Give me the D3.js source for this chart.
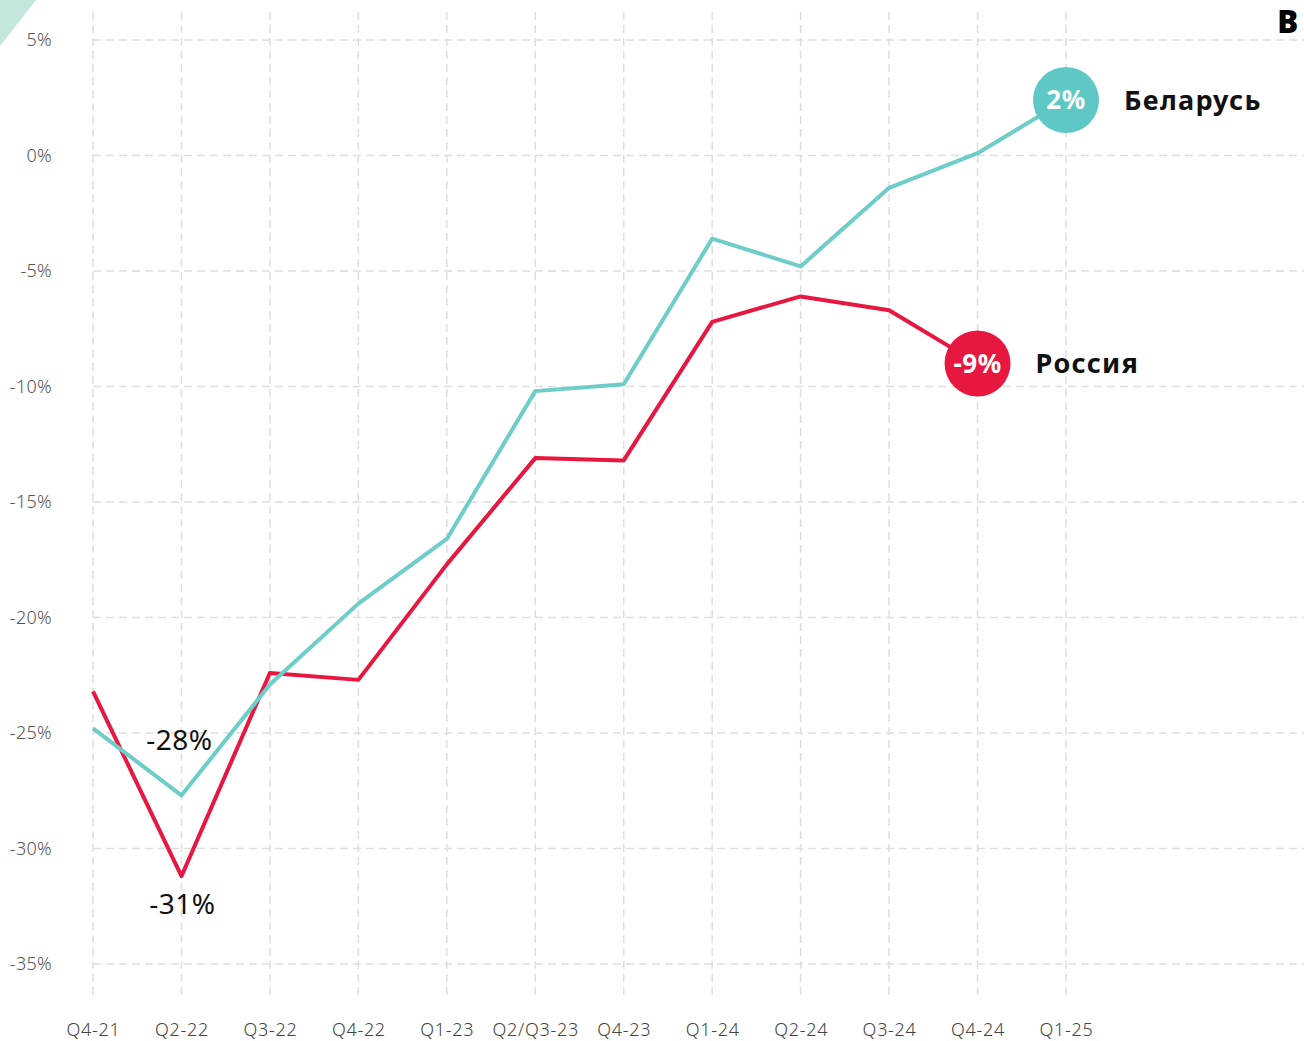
<!DOCTYPE html>
<html>
<head>
<meta charset="utf-8">
<script src="https://cdn.jsdelivr.net/npm/d3@7"></script>
<style>
  html, body { margin: 0; padding: 0; background: #fff; }
  svg { display: block; font-family: "Noto Sans", "Open Sans", sans-serif; }
</style>
</head>
<body>
<div id="chart"></div>
<script>
const quarters = ['Q4-21', 'Q2-22', 'Q3-22', 'Q4-22', 'Q1-23', 'Q2/Q3-23', 'Q4-23', 'Q1-24', 'Q2-24', 'Q3-24', 'Q4-24', 'Q1-25'];
const belarus = [-24.8, -27.7, -22.9, -19.4, -16.6, -10.2, -9.9, -3.6, -4.8, -1.4, 0.1, 2.4];
const russia = [-23.2, -31.2, -22.4, -22.7, -17.7, -13.1, -13.2, -7.2, -6.1, -6.7, -9.0];
const yTicks = [5, 0, -5, -10, -15, -20, -25, -30, -35];

const W = 1304, H = 1041;
const teal = '#6dcdc8';
const tealDot = '#5ec8c4';
const red = '#e8173f';

const svg = d3.select('#chart').append('svg')
  .attr('width', W)
  .attr('height', H);

const x = d3.scalePoint().domain(quarters).range([93, 1066]);
const y = d3.scaleLinear().domain([-35, 5]).range([964, 40]);

// corner decorations
svg.append('path')
  .attr('d', 'M0,0 L36,0 L0,46 Z')
  .attr('fill', '#c3e6df');
svg.append('text')
  .attr('x', 1298).attr('y', 33)
  .attr('text-anchor', 'end')
  .attr('font-size', 31).attr('font-weight', 900)
  .attr('fill', '#000')
  .text('В');

// grid
svg.append('g')
  .selectAll('line')
  .data(yTicks)
  .join('line')
  .attr('x1', 93).attr('x2', W)
  .attr('y1', d => y(d)).attr('y2', d => y(d))
  .attr('stroke', '#dedede').attr('stroke-width', 1.5)
  .attr('stroke-dasharray', '8,5');

svg.append('g')
  .selectAll('line')
  .data(quarters)
  .join('line')
  .attr('x1', d => x(d)).attr('x2', d => x(d))
  .attr('y1', 12).attr('y2', 995)
  .attr('stroke', '#dedede').attr('stroke-width', 1.5)
  .attr('stroke-dasharray', '8,5');

// axes
svg.append('g')
  .attr('transform', 'translate(52,0)')
  .call(d3.axisLeft(y).tickValues(yTicks).tickSize(0).tickPadding(0).tickFormat(d => d + '%'))
  .call(g => g.select('.domain').remove())
  .call(g => g.selectAll('.tick text')
    .attr('fill', '#555').attr('font-weight', 300)
    .style('letter-spacing', '0.3px')
    .style('font-size', '18px').style('font-family', '"Noto Sans", sans-serif'));

svg.append('g')
  .attr('transform', 'translate(0,1023)')
  .call(d3.axisBottom(x).tickSize(0).tickPadding(0))
  .call(g => g.select('.domain').remove())
  .call(g => g.selectAll('.tick text')
    .attr('fill', '#444').attr('font-weight', 300)
    .style('letter-spacing', '0.7px')
    .style('font-size', '18px').style('font-family', '"Noto Sans", sans-serif'));

// lines
const line = d3.line()
  .x((d, i) => x(quarters[i]))
  .y(d => y(d));

svg.append('path')
  .datum(russia)
  .attr('fill', 'none')
  .attr('stroke', red)
  .attr('stroke-width', 4)
  .attr('stroke-linejoin', 'round')
  .attr('d', line);

svg.append('path')
  .datum(belarus)
  .attr('fill', 'none')
  .attr('stroke', teal)
  .attr('stroke-width', 4)
  .attr('stroke-linejoin', 'round')
  .attr('d', line);

// trough labels
svg.append('text')
  .attr('x', x(quarters[1]) - 2).attr('y', y(belarus[1]) - 45)
  .attr('text-anchor', 'middle')
  .attr('font-size', 28).attr('fill', '#111')
  .style('letter-spacing', '0.5px')
  .text(Math.round(belarus[1]) + '%');
svg.append('text')
  .attr('x', x(quarters[1]) + 1).attr('y', y(russia[1]) + 38)
  .attr('text-anchor', 'middle')
  .attr('font-size', 28).attr('fill', '#111')
  .style('letter-spacing', '0.5px')
  .text(Math.round(russia[1]) + '%');

// end badges
function badge(values, fill, name) {
  const i = values.length - 1;
  const cx = x(quarters[i]), cy = y(values[i]);
  svg.append('circle')
    .attr('cx', cx).attr('cy', cy).attr('r', 33)
    .attr('fill', fill);
  svg.append('text')
    .attr('x', cx).attr('y', cy)
    .attr('dy', '0.35em')
    .attr('text-anchor', 'middle')
    .attr('font-size', 26).attr('font-weight', 700)
    .style('letter-spacing', '0.5px')
    .attr('fill', '#fff')
    .text(Math.round(values[i]) + '%');
  svg.append('text')
    .attr('x', cx + 58).attr('y', cy)
    .attr('dy', '0.35em')
    .attr('font-size', 27).attr('font-weight', 700)
    .style('letter-spacing', '1.3px')
    .attr('fill', '#111')
    .text(name);
}
badge(belarus, tealDot, 'Беларусь');
badge(russia, red, 'Россия');
</script>
</body>
</html>
